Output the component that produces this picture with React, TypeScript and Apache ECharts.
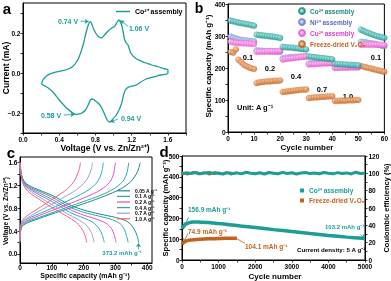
import { useEffect, useRef } from "react";
import * as echarts from "echarts";

const FONT = '"Liberation Sans", Arial, Helvetica, sans-serif';
const TEAL = "#1c9d98";
const TEAL_DARK = "#1a8a85";
const NI = "#6e7ec6";
const CU = "#ef4fcf";
const ORANGE = "#c6611c";

// ---------- panel a : CV curve (V, mA)
const cvAnodic: number[][] = [
  [0.205, -0.055], [0.22, -0.035], [0.26, -0.015], [0.3, -0.004], [0.36, 0.004], [0.44, 0.012],
  [0.5, 0.02], [0.55, 0.033], [0.59, 0.055], [0.62, 0.08], [0.65, 0.12], [0.67, 0.15],
  [0.69, 0.19], [0.71, 0.225], [0.73, 0.25], [0.745, 0.257], [0.76, 0.245], [0.78, 0.22],
  [0.81, 0.195], [0.84, 0.18], [0.87, 0.176], [0.9, 0.19], [0.94, 0.21], [0.98, 0.225],
  [1.01, 0.232], [1.04, 0.255], [1.06, 0.265], [1.08, 0.25], [1.1, 0.22], [1.12, 0.17],
  [1.14, 0.15], [1.16, 0.14], [1.19, 0.1], [1.24, 0.075], [1.31, 0.058], [1.36, 0.05],
  [1.42, 0.04], [1.5, 0.03], [1.57, 0.02], [1.6, 0.018],
];
const cvCathodic: number[][] = [
  [1.6, -0.003], [1.52, -0.01], [1.46, -0.018], [1.4, -0.025], [1.36, -0.03], [1.3, -0.045],
  [1.25, -0.06], [1.2, -0.066], [1.16, -0.072], [1.13, -0.085], [1.11, -0.11], [1.09, -0.15],
  [1.06, -0.185], [1.03, -0.21], [0.99, -0.232], [0.955, -0.245], [0.93, -0.235], [0.9, -0.205],
  [0.87, -0.175], [0.84, -0.155], [0.8, -0.14], [0.77, -0.13], [0.745, -0.135], [0.72, -0.16],
  [0.69, -0.185], [0.65, -0.2], [0.61, -0.206], [0.58, -0.207], [0.55, -0.2], [0.5, -0.183],
  [0.45, -0.16], [0.4, -0.135], [0.34, -0.1], [0.28, -0.075], [0.23, -0.062], [0.205, -0.055],
];

// ---------- panel b : rate capability (mAh g-1), cycles 1..60
const coRate = [
  348, 346, 344, 342, 340, 339, 337, 336, 334, 332,
  304, 303, 302, 301, 300, 299, 298, 297, 296, 294,
  266, 265, 264, 264, 263, 262, 261, 260, 259, 258,
  236, 235, 234, 233, 232, 231, 230, 229, 228, 227,
  213, 212, 212, 211, 211, 210, 210, 209, 209, 208,
  320, 316, 312, 309, 306, 303, 300, 298, 296, 294,
];
const niRate = [
  298, 295, 292, 290, 288, 287, 286, 285, 284, 283,
  255, 254, 254, 253, 253, 252, 252, 252, 251, 251,
  230, 232, 233, 234, 234, 235, 235, 236, 236, 237,
  214, 214, 215, 215, 215, 216, 216, 216, 216, 216,
  203, 203, 203, 203, 203, 203, 203, 203, 203, 204,
  282, 281, 280, 278, 277, 276, 274, 272, 270, 268,
];
const cuRate = [
  282, 280, 279, 278, 278, 277, 277, 276, 276, 275,
  250, 251, 251, 251, 252, 252, 252, 252, 253, 253,
  226, 228, 229, 230, 231, 232, 233, 234, 235, 236,
  211, 212, 212, 213, 213, 214, 214, 214, 215, 215,
  200, 200, 201, 201, 201, 201, 202, 202, 202, 202,
  272, 273, 273, 273, 273, 273, 273, 273, 272, 272,
];
const fdRate = [
  250, 248, 258, 226, 218, 211, 206, 202, 199, 197,
  153, 155, 156, 157, 158, 158, 159, 160, 160, 161,
  125, 126, 127, 128, 129, 130, 131, 132, 132, 133,
  106, 107, 108, 108, 109, 110, 110, 111, 111, 112,
  97, 97, 98, 98, 98, 99, 99, 99, 100, 100,
  206, 204, 202, 200, 198, 196, 194, 192, 190, 188,
];
const rateLabels = ["0.1", "0.2", "0.4", "0.7", "1.0", "0.1"];

// ---------- panel c : GCD curves [capacity, voltage]
const rateNames = ["0.05 A g⁻¹", "0.1 A g⁻¹", "0.2 A g⁻¹", "0.4 A g⁻¹", "0.7 A g⁻¹", "1.0 A g⁻¹"];
const rateColors = ["#1a8a8a", "#2aa99c", "#e64bd2", "#27adb6", "#9a9de0", "#f2637e"];
const dis005 = [[0,1.6],[3,1.45],[8,1.33],[18,1.24],[35,1.18],[60,1.12],[100,1.03],[130,0.94],[160,0.85],[200,0.77],[250,0.7],[300,0.64],[330,0.59],[348,0.52],[360,0.42],[368,0.32],[373,0.2]];
const dis01 = [[0,1.6],[3,1.44],[8,1.32],[18,1.23],[35,1.16],[60,1.1],[100,1.0],[130,0.9],[160,0.81],[200,0.73],[250,0.66],[290,0.6],[315,0.53],[328,0.43],[335,0.32],[340,0.2]];
const dis02 = [[0,1.6],[3,1.43],[8,1.3],[18,1.21],[35,1.14],[60,1.07],[100,0.96],[130,0.86],[160,0.77],[200,0.68],[240,0.61],[270,0.54],[287,0.45],[296,0.34],[302,0.2]];
const dis04 = [[0,1.6],[3,1.42],[8,1.29],[18,1.19],[35,1.12],[60,1.04],[100,0.92],[130,0.82],[160,0.72],[200,0.63],[230,0.55],[248,0.45],[258,0.34],[265,0.2]];
const dis07 = [[0,1.6],[3,1.41],[8,1.27],[18,1.17],[35,1.09],[60,1.0],[90,0.9],[120,0.8],[150,0.7],[180,0.61],[205,0.52],[220,0.42],[228,0.32],[233,0.2]];
const dis10 = [[0,1.6],[3,1.4],[8,1.25],[18,1.14],[35,1.05],[60,0.96],[90,0.85],[120,0.75],[150,0.65],[175,0.56],[192,0.46],[202,0.36],[207,0.28],[210,0.2]];
const chg005 = [[0,0.2],[1,0.35],[4,0.45],[10,0.5],[25,0.55],[50,0.6],[100,0.7],[150,0.79],[200,0.88],[250,0.98],[290,1.07],[320,1.15],[345,1.25],[360,1.35],[370,1.45],[378,1.6]];
const chg01 = [[0,0.2],[1,0.36],[4,0.47],[10,0.52],[25,0.57],[50,0.62],[100,0.72],[150,0.82],[200,0.92],[250,1.02],[285,1.11],[310,1.2],[327,1.3],[336,1.42],[342,1.6]];
const chg02 = [[0,0.22],[1,0.38],[4,0.49],[10,0.54],[25,0.59],[50,0.65],[100,0.76],[150,0.87],[200,0.98],[240,1.08],[268,1.18],[285,1.28],[294,1.4],[300,1.6]];
const chg04 = [[0,0.22],[1,0.4],[4,0.5],[10,0.56],[25,0.62],[50,0.68],[100,0.8],[150,0.93],[190,1.04],[220,1.14],[240,1.24],[252,1.35],[258,1.46],[262,1.6]];
const chg07 = [[0,0.23],[1,0.42],[4,0.52],[10,0.58],[25,0.64],[50,0.72],[90,0.84],[130,0.97],[165,1.08],[190,1.18],[207,1.28],[218,1.39],[224,1.48],[228,1.6]];
const chg10 = [[0,0.24],[1,0.44],[4,0.55],[10,0.61],[25,0.68],[50,0.77],[80,0.88],[110,0.99],[140,1.1],[160,1.2],[173,1.3],[182,1.42],[187,1.5],[190,1.6]];
const discharges = [dis005, dis01, dis02, dis04, dis07, dis10];
const charges = [chg005, chg01, chg02, chg04, chg07, chg10];

// ---------- panel d : long cycling
const coLongCycles = [1, 50, 100, 200, 300, 400, 500, 700, 1000, 1300, 1600, 2000, 2500, 3000, 3500, 4000, 4500, 5000];
const coLongCap = [150, 163, 172, 180, 183, 183, 182, 180, 175, 170, 164, 156, 146, 137, 127, 118, 110, 103];
const fdLongCycles = [1, 30, 80, 150, 250, 400, 600, 800, 1000, 1200, 1500];
const fdLongCap = [75, 82, 88, 93, 96, 99, 101, 102, 103, 104, 104];
const ceCycles = [0,125,250,375,500,625,750,875,1000,1125,1250,1375,1500,1625,1750,1875,2000,2125,2250,2375,2500,2625,2750,2875,3000,3125,3250,3375,3500,3625,3750,3875,4000,4125,4250,4375,4500,4625,4750,4875,5000];
const coCE = [99.2,100.6,99.8,100.9,99.5,100.3,101.0,99.7,100.4,99.1,100.8,99.9,100.5,99.4,101.2,100.1,99.6,100.7,99.3,100.9,100.2,99.5,101.1,99.8,100.6,99.2,100.4,100.9,99.7,100.3,99.5,101.0,100.1,99.4,100.8,99.9,100.5,99.3,101.3,99.8,100.2];
const fdCECycles = [0, 150, 300, 450, 600, 750, 900, 1050, 1200, 1350, 1500];
const fdCE = [101.4, 98.6, 101.6, 98.9, 101.3, 98.5, 101.7, 98.8, 101.2, 98.6, 101.4];

const zip = (xs: number[], ys: number[]) => xs.map((x, i) => [x, ys[i]]);
const cycles = coRate.map((_, i) => i + 1);

const tickLabel = { fontSize: 6.5, fontWeight: "bold", color: "#000", fontFamily: FONT, margin: 2.5 };
const axisLine = { show: true, onZero: false, lineStyle: { color: "#000", width: 1 } };

function axis(gridIndex: number, min: number, max: number, labels: number[], ticks: number[], fmt: (v: number) => string, extra: any = {}, margin = 2.5) {
  return {
    type: "value",
    gridIndex,
    min,
    max,
    axisLine,
    splitLine: { show: false },
    axisTick: { show: true, inside: false, length: 2.5, customValues: ticks, lineStyle: { color: "#000", width: 0.8 } },
    axisLabel: { ...tickLabel, margin, customValues: labels, formatter: (v: number) => fmt(v) },
    ...extra,
  };
}

const sphere = (base: string, light: string) =>
  new echarts.graphic.RadialGradient(0.35, 0.35, 0.7, [
    { offset: 0, color: light },
    { offset: 1, color: base },
  ]);

const names: Record<string, string> = {
  aCo: "Co²⁺ assembly",
  bCo: "Co²⁺ assembly",
  bNi: "Ni²⁺ assembly",
  bCu: "Cu²⁺ assembly",
  bFD: "Freeze-dried V₂O₅",
  dCoCE: "Co²⁺ assembly",
  dFDCE: "Freeze-dried V₂O₅",
};
rateNames.forEach((n) => (names["c" + n] = n));

function txt(text: string, x: number, y: number, size: number, fill = "#000", align = "center", rotation = 0) {
  return {
    type: "text",
    x,
    y,
    rotation,
    silent: true,
    style: {
      text,
      fill,
      font: `bold ${size}px ${FONT}`,
      align,
      verticalAlign: "middle",
      textAlign: align,
      textVerticalAlign: "middle",
    },
  };
}

function arrowLine(color: string, pairs: number[][][]) {
  return {
    silent: true,
    symbol: ["none", "arrow"],
    symbolSize: 4,
    label: { show: false },
    lineStyle: { color, width: 0.8, type: "solid" },
    emphasis: { disabled: true },
    data: pairs.map(([a, b]) => [{ coord: a }, { coord: b }]),
  };
}

export default function App() {
  const ref = useRef<HTMLDivElement>(null);
  useEffect(() => {
    document.body.style.margin = "0";
    const chart = echarts.init(ref.current!, null, { renderer: "svg" });
    const f1 = (v: number) => (v < 0 ? "−" + Math.abs(v).toFixed(1) : v.toFixed(1));
    const f0 = (v: number) => String(v);

    const series: any[] = [];
    // a
    series.push({
      name: "aCo",
      type: "line",
      xAxisIndex: 0,
      yAxisIndex: 0,
      data: [...cvAnodic, ...cvCathodic],
      showSymbol: false,
      smooth: 0.25,
      lineStyle: { color: TEAL, width: 1.3 },
      itemStyle: { color: TEAL },
      markLine: arrowLine(TEAL, [
        [[0.635, 0.26], [0.725, 0.257]],
        [[1.16, 0.235], [1.075, 0.262]],
        [[0.45, -0.21], [0.57, -0.207]],
        [[1.05, -0.23], [0.965, -0.245]],
      ]),
    });
    // b
    const bSeries: [string, number[], string, string][] = [
      ["bFD", fdRate, ORANGE, "#f6c79a"],
      ["bNi", niRate, NI, "#d6dcff"],
      ["bCu", cuRate, CU, "#ffd0f4"],
      ["bCo", coRate, TEAL_DARK, "#a6f0ea"],
    ];
    bSeries.forEach(([name, vals, base, light]) => {
      series.push({
        name,
        type: "scatter",
        xAxisIndex: 1,
        yAxisIndex: 1,
        data: zip(cycles, vals),
        symbol: "circle",
        symbolSize: 6,
        itemStyle: { color: sphere(base, light), borderColor: base, borderWidth: 0.3 },
      });
    });
    // c
    rateNames.forEach((n, i) => {
      [discharges[i], charges[i]].forEach((d) => {
        series.push({
          name: "c" + n,
          type: "line",
          xAxisIndex: 2,
          yAxisIndex: 2,
          data: d,
          showSymbol: false,
          smooth: 0.3,
          lineStyle: { color: rateColors[i], width: 1 },
          itemStyle: { color: rateColors[i] },
        });
      });
    });
    series[series.length - 12 + 0].markLine = arrowLine(TEAL, [[[372, 0.08], [373, 0.19]]]);
    // d
    series.push({
      name: "dFDCE",
      type: "line",
      xAxisIndex: 3,
      yAxisIndex: 4,
      data: zip(fdCECycles, fdCE),
      showSymbol: false,
      lineStyle: { color: ORANGE, width: 2 },
      itemStyle: { color: ORANGE },
    });
    series.push({
      name: "dCoCE",
      type: "line",
      xAxisIndex: 3,
      yAxisIndex: 4,
      data: zip(ceCycles, coCE),
      showSymbol: false,
      lineStyle: { color: TEAL, width: 3 },
      itemStyle: { color: TEAL },
    });
    series.push({
      name: "dCoCap",
      type: "line",
      xAxisIndex: 3,
      yAxisIndex: 3,
      data: zip(coLongCycles, coLongCap),
      showSymbol: false,
      smooth: 0.3,
      lineStyle: { color: TEAL, width: 3.5 },
      markLine: arrowLine(TEAL, [
        [[180, 205], [60, 162]],
        [[4880, 122], [5000, 104]],
      ]),
    });
    series.push({
      name: "dFDCap",
      type: "line",
      xAxisIndex: 3,
      yAxisIndex: 3,
      data: zip(fdLongCycles, fdLongCap),
      showSymbol: false,
      smooth: 0.3,
      lineStyle: { color: ORANGE, width: 3.5 },
      markLine: {
        ...arrowLine(ORANGE, [[[160, 128], [50, 84]]]),
      },
    });
    series.push({
      name: "dFDlead",
      type: "line",
      xAxisIndex: 3,
      yAxisIndex: 3,
      data: [[1500, 102], [1720, 80]],
      showSymbol: false,
      lineStyle: { color: ORANGE, width: 0.8 },
    });

    const legendText = (size: number, color = "#000") => ({ fontSize: size, fontWeight: "bold", color, fontFamily: FONT });

    chart.setOption({
      animation: false,
      grid: [
        { left: 23, top: 3, width: 163, height: 130, show: true, borderColor: "#000", borderWidth: 1 },
        { left: 228, top: 4, width: 158, height: 128, show: true, borderColor: "#000", borderWidth: 1 },
        { left: 20, top: 157, width: 132, height: 106, show: true, borderColor: "#000", borderWidth: 1 },
        { left: 182, top: 156, width: 183, height: 104, show: true, borderColor: "#000", borderWidth: 1 },
      ],
      xAxis: [
        axis(0, 0, 1.8, [0, 0.4, 0.8, 1.2, 1.6], [0, 0.2, 0.4, 0.6, 0.8, 1.0, 1.2, 1.4, 1.6, 1.8], f1),
        axis(1, 0, 60, [0, 10, 20, 30, 40, 50, 60], [0, 5, 10, 15, 20, 25, 30, 35, 40, 45, 50, 55, 60], f0),
        axis(2, 0, 415, [0, 100, 200, 300, 400], [0, 50, 100, 150, 200, 250, 300, 350, 400], f0, {}, 1.2),
        axis(3, 0, 5000, [0, 1000, 2000, 3000, 4000, 5000], [0, 500, 1000, 1500, 2000, 2500, 3000, 3500, 4000, 4500, 5000], f0, {}, 3),
      ],
      yAxis: [
        axis(0, -0.3, 0.35, [-0.2, 0, 0.2], [-0.3, -0.2, -0.1, 0, 0.1, 0.2, 0.3], f1),
        axis(1, 0, 400, [0, 100, 200, 300, 400], [0, 50, 100, 150, 200, 250, 300, 350, 400], f0),
        axis(2, -0.16, 1.7, [0, 0.4, 0.8, 1.2, 1.6], [0, 0.2, 0.4, 0.6, 0.8, 1.0, 1.2, 1.4, 1.6], f1),
        axis(3, 0, 500, [0, 100, 200, 300, 400, 500], [0, 50, 100, 150, 200, 250, 300, 350, 400, 450, 500], f0),
        axis(3, 0, 120, [0, 20, 40, 60, 80, 100, 120], [0, 10, 20, 30, 40, 50, 60, 70, 80, 90, 100, 110, 120], f0, { position: "right" }, 3.5),
      ],
      legend: [
        {
          left: 116, top: 8, orient: "vertical", selectedMode: false, icon: "rect", itemWidth: 14, itemHeight: 1.5,
          itemGap: 0, padding: 0, data: ["aCo"], formatter: (n: string) => names[n], textStyle: legendText(7),
        },
        {
          left: 298, top: 7, orient: "vertical", selectedMode: false, icon: "circle", itemWidth: 6, itemHeight: 6,
          itemGap: 3, padding: 0,
          data: [
            { name: "bCo", textStyle: { color: TEAL_DARK } },
            { name: "bNi", textStyle: { color: "#5a6ab8" } },
            { name: "bCu", textStyle: { color: "#e040c8" } },
            { name: "bFD", textStyle: { color: ORANGE } },
          ],
          formatter: (n: string) => names[n],
          textStyle: legendText(6.5),
        },
        {
          left: 117, top: 188, orient: "vertical", selectedMode: false, icon: "rect", itemWidth: 13, itemHeight: 1.2,
          itemGap: 0, padding: 0, data: rateNames.map((n) => "c" + n), formatter: (n: string) => names[n],
          textStyle: { ...legendText(5), lineHeight: 5.6 },
        },
        {
          left: 300, top: 187, orient: "vertical", selectedMode: false, icon: "rect", itemWidth: 4, itemHeight: 4,
          itemGap: 3, padding: 0,
          data: [
            { name: "dCoCE", textStyle: { color: TEAL } },
            { name: "dFDCE", textStyle: { color: ORANGE } },
          ],
          formatter: (n: string) => names[n],
          textStyle: legendText(6.5),
        },
      ],
      graphic: [
        txt("a", 7, 8, 15),
        txt("b", 199, 8, 14),
        txt("c", 11, 152, 15),
        txt("d", 164, 151, 15),
        txt("Voltage (V vs. Zn/Zn²⁺)", 105, 148, 8.5),
        txt("Current (mA)", 6, 68, 8.5, "#000", "center", Math.PI / 2),
        txt("Cycle number", 307, 147.5, 8),
        txt("Specific capacity (mAh g⁻¹)", 208, 66, 8, "#000", "center", Math.PI / 2),
        txt("Specific capacity (mAh g⁻¹)", 85, 275, 7),
        txt("Voltage (V vs. Zn/Zn²⁺)", 5, 211, 6.5, "#000", "center", Math.PI / 2),
        txt("Cycle number", 275, 276, 8),
        txt("Specific capacity (mAh g⁻¹)", 165, 208, 7.5, "#000", "center", Math.PI / 2),
        txt("Coulombic efficiency (%)", 386, 208, 7.5, "#000", "center", Math.PI / 2),
        // a annotations
        txt("0.74 V", 68, 21, 7, TEAL),
        txt("1.06 V", 139, 28, 7, TEAL),
        txt("0.58 V", 51, 115, 7, TEAL),
        txt("0.94 V", 131, 118, 7, TEAL),
        // b annotations
        txt(rateLabels[0], 248, 57, 7.5),
        txt(rateLabels[1], 270, 68, 7.5),
        txt(rateLabels[2], 296, 76, 7.5),
        txt(rateLabels[3], 322, 89, 7.5),
        txt(rateLabels[4], 348, 96, 7.5),
        txt(rateLabels[5], 376, 57, 7.5),
        txt("Unit: A g⁻¹", 237, 107, 7.5, "#000", "left"),
        // c annotation
        txt("373.2 mAh g⁻¹", 122, 253, 6, TEAL),
        // d annotations
        txt("156.9 mAh g⁻¹", 188, 209, 6.5, TEAL, "left"),
        txt("74.9 mAh g⁻¹", 188, 231, 6.5, ORANGE, "left"),
        txt("104.1 mAh g⁻¹", 245, 246, 6.5, ORANGE, "left"),
        txt("103.2 mAh g⁻¹", 325, 227, 6, TEAL, "left"),
        txt("Current density: 5 A g⁻¹", 297, 249, 6.2, "#000", "left"),
      ],
      series,
    });
    return () => chart.dispose();
  }, []);
  return <div ref={ref} style={{ position: "fixed", left: 0, top: 0, width: 391, height: 281 }} />;
}
